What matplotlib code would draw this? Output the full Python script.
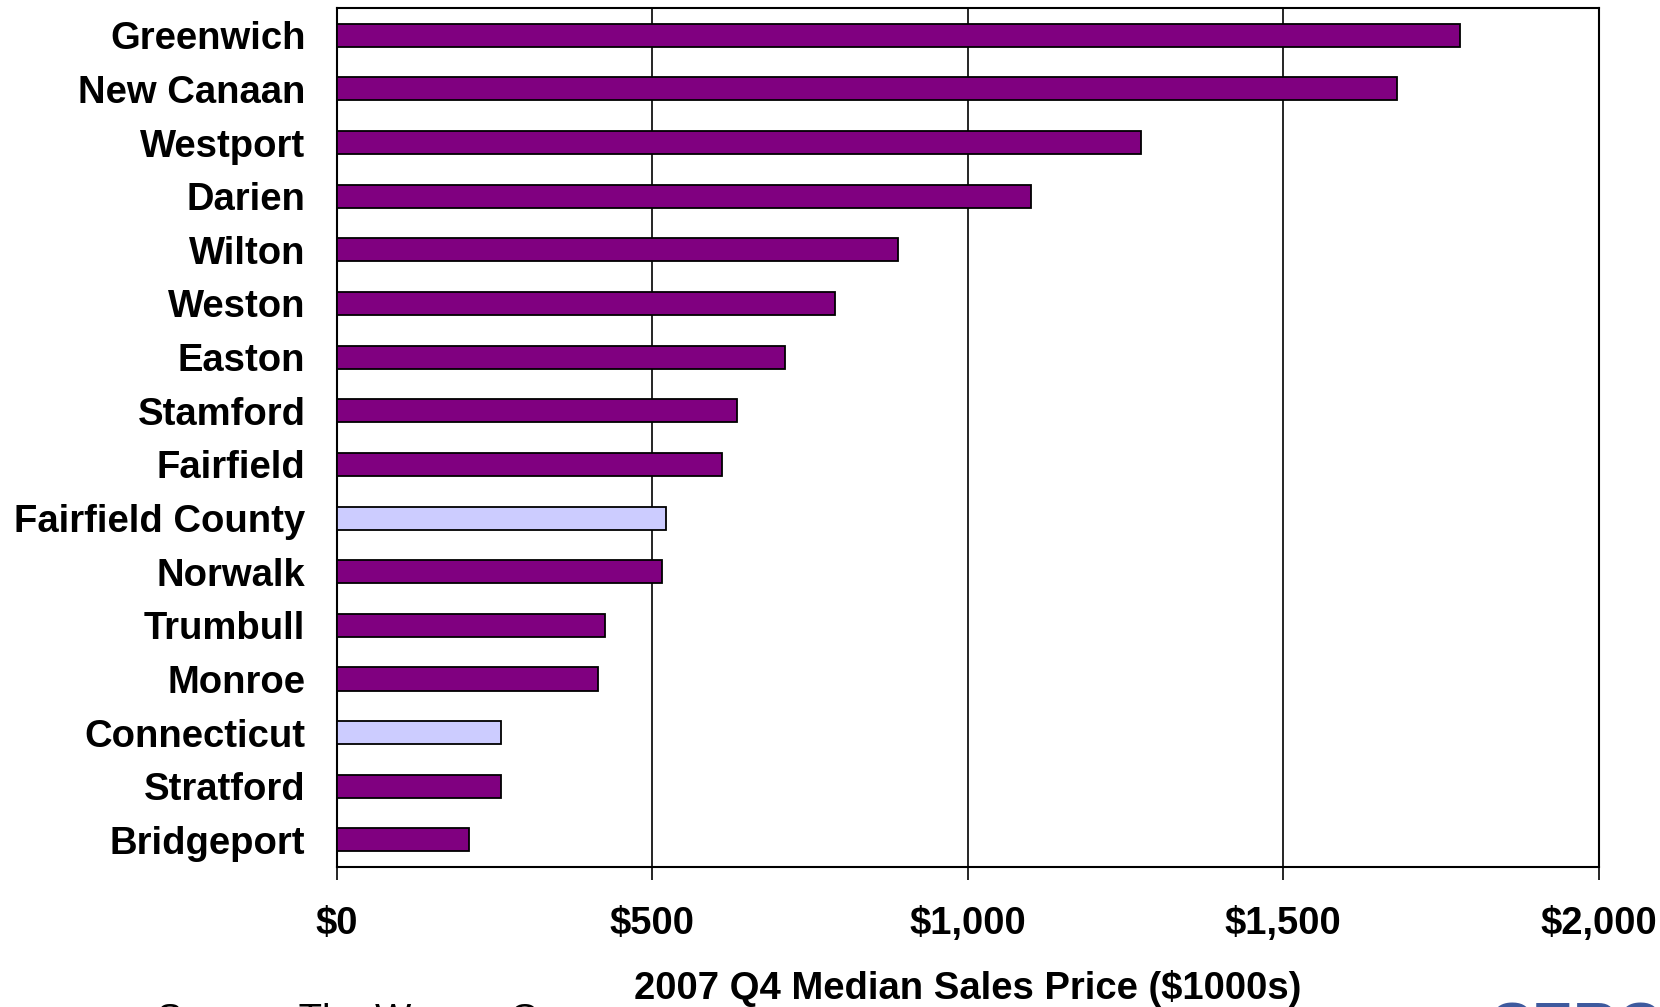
import matplotlib
matplotlib.use("Agg")
import matplotlib.pyplot as plt

# values in $1000s, top to bottom
towns = [
    "Greenwich", "New Canaan", "Westport", "Darien", "Wilton", "Weston",
    "Easton", "Stamford", "Fairfield", "Fairfield County", "Norwalk",
    "Trumbull", "Monroe", "Connecticut", "Stratford", "Bridgeport",
]
median_price = [1780, 1680, 1275, 1100, 890, 790, 710, 635, 610, 522, 516,
                426, 415, 260, 260, 209]
aggregates = ["Fairfield County", "Connecticut"]
x_ticks = [0, 500, 1000, 1500, 2000]
x_ticklabels = ["$0", "$500", "$1,000", "$1,500", "$2,000"]

TOWN_COLOR = "#800080"
AGG_COLOR = "#CCCCFF"

plt.rcParams["font.family"] = ["Liberation Sans", "DejaVu Sans"]

fig = plt.figure(figsize=(16.6, 10.07), dpi=100)
ax = fig.add_axes([0.2028, 0.1393, 0.7602, 0.8523])

colors = [AGG_COLOR if t in aggregates else TOWN_COLOR for t in towns]
ax.barh(range(len(towns)), median_price, height=0.43, color=colors,
        edgecolor="black", linewidth=1.3, zorder=3)

ax.set_ylim(len(towns) - 0.5, -0.5)
ax.set_xlim(0, 2000)
ax.set_yticks(range(len(towns)))
ax.set_yticklabels(towns, fontsize=27.5, fontweight="bold")
ax.set_xticks(x_ticks)
ax.set_xticklabels(x_ticklabels, fontsize=27.5, fontweight="bold")
ax.tick_params(axis="y", length=0, pad=22.5)
ax.tick_params(axis="x", length=9.5, width=1.2, pad=18.5, direction="out")
ax.grid(axis="x", color="black", linewidth=1.2, zorder=0)
for s in ax.spines.values():
    s.set_color("black")
    s.set_linewidth(1.5)

ax.set_xlabel("2007 Q4 Median Sales Price ($1000s)", fontsize=27.5,
              fontweight="bold", labelpad=20.5)

# source line and logo sit mostly below the bottom edge, as in the original slide
fig.text(157 / 1660, 1 - 1003 / 1007, "Source: The Warren Group",
         fontsize=27.5, va="top", ha="left")
fig.text(1488 / 1660, 1 - 1001 / 1007, "CERC", fontsize=44,
         fontweight="bold", color="#3e5a9e", va="top", ha="left")

fig.savefig("out.png", dpi=100)
